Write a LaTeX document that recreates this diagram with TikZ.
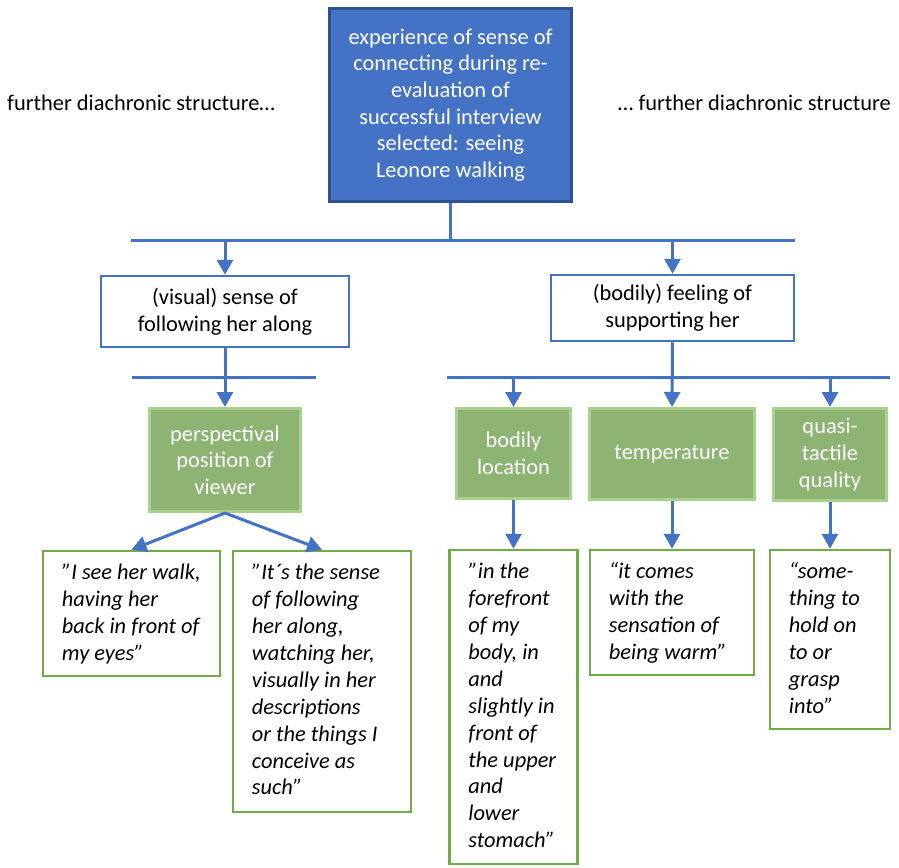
\documentclass[tikz,border=0pt]{standalone}
\usepackage{fontspec}
\setmainfont{Carlito}
\usetikzlibrary{arrows.meta}
\definecolor{blueline}{HTML}{4472C4}
\definecolor{topborder}{HTML}{2F528F}
\definecolor{greenfill}{HTML}{8EB474}
\definecolor{greenborder}{HTML}{A9D18E}
\definecolor{quoteborder}{HTML}{70AD47}
\begin{document}
\begin{tikzpicture}[x=1pt,y=-1pt,
 every node/.style={font=\fontsize{22.4}{26.7}\selectfont, inner sep=0pt},
 conn/.style={draw=blueline, line width=3pt},
 arr/.style={conn, -{Triangle[width=16pt,length=15pt]}},
 topbox/.style={draw=topborder, fill=blueline, line width=3pt, text=white, align=center},
 whitebox/.style={draw=blueline, line width=2.5pt, fill=white, align=center},
 greenbox/.style={draw=greenborder, fill=greenfill, line width=3pt, text=white, align=center},
 quotebox/.style={draw=quoteborder, line width=2.5pt, fill=white},
 quotetext/.style={anchor=north west, align=left, font=\fontsize{22.4}{26.9}\selectfont\itshape},
]
\useasboundingbox (0,0) rectangle (899,867);

% side texts
\node[anchor=west] (sideL) at (7,103) {further diachronic structure…};
\node[anchor=east] (sideR) at (891,103) {… further diachronic structure};

% top box
\node[topbox, minimum width=242pt, minimum height=193pt] (top) at (450.5,105)
 {experience of sense of\\connecting during re-\\evaluation of\\successful interview\\selected: seeing\\Leonore walking};

% second level
\node[whitebox, minimum width=248pt, minimum height=71pt] (vis) at (225,311.5)
 {(visual) sense of\\following her along};
\node[whitebox, minimum width=243pt, minimum height=66pt] (sup) at (672.5,308)
 {(bodily) feeling of\\supporting her};

% green boxes
\node[greenbox, minimum width=151pt, minimum height=103pt] (persp) at (225,460)
 {perspectival\\position of\\viewer};
\node[greenbox, minimum width=114pt, minimum height=90pt] (bod) at (513.5,453.5)
 {bodily\\location};
\node[greenbox, minimum width=165pt, minimum height=91pt] (temp) at (672,454)
 {temperature};
\node[greenbox, minimum width=113pt, minimum height=92pt] (quasi) at (830,454.5)
 {quasi-\\tactile\\quality};

% quote boxes
\node[quotebox, minimum width=177pt, minimum height=125pt] (q1) at (131.5,613.5) {};
\node[quotebox, minimum width=178pt, minimum height=261pt] (q2) at (322,681.5) {};
\node[quotebox, minimum width=128pt, minimum height=314pt] (qb) at (513.5,707) {};
\node[quotebox, minimum width=164pt, minimum height=125pt] (qt) at (672,612.5) {};
\node[quotebox, minimum width=120pt, minimum height=179pt] (qq) at (830,639.5) {};

\node[quotetext] (t1) at ([shift={(20,11)}]q1.north west)
 {\strut ”I see her walk,\\having her\\back in front of\\my eyes”};
\node[quotetext] (t2) at ([shift={(20,11)}]q2.north west)
 {\strut ”It´s the sense\\of following\\her along,\\watching her,\\visually in her\\descriptions\\or the things I\\conceive as\\such”};
\node[quotetext] (tb) at ([shift={(20,11)}]qb.north west)
 {\strut ”in the\\forefront\\of my\\body, in\\and\\slightly in\\front of\\the upper\\and\\lower\\stomach”};
\node[quotetext] (tt) at ([shift={(20,11)}]qt.north west)
 {\strut “it comes\\with the\\sensation of\\being warm”};
\node[quotetext] (tq) at ([shift={(20,11)}]qq.north west)
 {\strut “some-\\thing to\\hold on\\to or\\grasp\\into”};

% hub lines
\coordinate (h1L) at (131,240);
\coordinate (h1R) at (795,240);
\coordinate (h2L) at (132,377);
\coordinate (h2R) at (316,377);
\coordinate (h3L) at (447,377);
\coordinate (h3R) at (890,377);

\draw[conn] (h1L) -- (h1R);
\draw[conn] (top.south) -- (top.south |- h1L);
\draw[arr] (vis.north |- h1L) -- (vis.north);
\draw[arr] (sup.north |- h1L) -- (sup.north);

\draw[conn] (h2L) -- (h2R);
\draw[arr] (vis.south) -- (persp.north);

\draw[conn] (h3L) -- (h3R);
\draw[arr] (sup.south) -- (temp.north);
\draw[arr] (bod.north |- h3L) -- (bod.north);
\draw[arr] (quasi.north |- h3L) -- (quasi.north);

\draw[arr] (persp.south) -- (q1.north);
\draw[arr] (persp.south) -- (q2.north);
\draw[arr] (bod.south) -- (qb.north);
\draw[arr] (temp.south) -- (qt.north);
\draw[arr] (quasi.south) -- (qq.north);
\end{tikzpicture}
\end{document}
